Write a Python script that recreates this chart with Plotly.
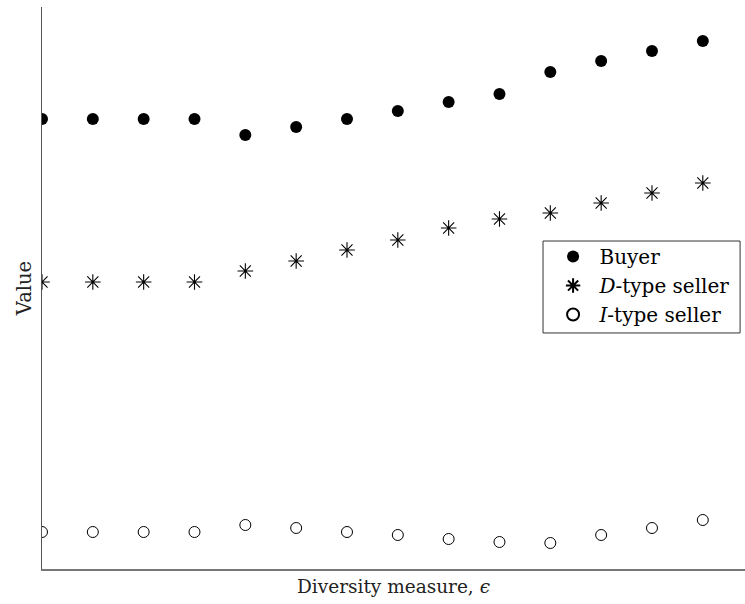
import plotly.graph_objects as go

eps = list(range(14))
buyer = [4.50, 4.50, 4.50, 4.50, 4.34, 4.42, 4.50, 4.58, 4.67, 4.75, 4.97, 5.08, 5.18, 5.28]
d_seller = [2.87, 2.87, 2.87, 2.87, 2.98, 3.08, 3.19, 3.29, 3.41, 3.50, 3.56, 3.66, 3.76, 3.86]
i_seller = [0.37, 0.37, 0.37, 0.37, 0.44, 0.41, 0.37, 0.34, 0.30, 0.27, 0.26, 0.34, 0.41, 0.49]

FONT = "DejaVu Serif"
NB = "\u00a0"

fig = go.Figure()
fig.add_trace(go.Scatter(x=eps, y=buyer, mode="markers", name=NB + "Buyer",
                         marker=dict(symbol="circle", size=12, color="black")))
fig.add_trace(go.Scatter(x=eps, y=d_seller, mode="markers", name=NB + "<i>D</i>-type seller",
                         marker=dict(symbol="asterisk-open", size=13, color="black",
                                     line=dict(width=1.1, color="black"))))
fig.add_trace(go.Scatter(x=eps, y=i_seller, mode="markers", name=NB + "<i>I</i>-type seller",
                         marker=dict(symbol="circle-open", size=11, color="black",
                                     line=dict(width=1, color="black"))))

fig.add_shape(type="rect", xref="paper", yref="paper",
              x0=0.7127, x1=0.993, y0=0.42, y1=0.5836,
              line=dict(color="#333", width=1), fillcolor="rgba(0,0,0,0)", layer="below")

fig.update_layout(
    width=745, height=604,
    margin=dict(l=42, r=0, t=7, b=35),
    paper_bgcolor="white", plot_bgcolor="white",
    font=dict(family=FONT, size=18, color="#222"),
    showlegend=True,
    legend=dict(x=0.727, y=0.5907, xanchor="left", yanchor="top",
                borderwidth=0, bgcolor="rgba(0,0,0,0)",
                font=dict(family=FONT, size=20, color="black"),
                itemsizing="constant", tracegroupgap=0),
    xaxis=dict(range=[0, 13.83], showgrid=False, zeroline=False, showticklabels=False,
               ticks="", showline=True, linecolor="#777", linewidth=2,
               title=dict(text="Diversity measure, <i>ϵ</i>", standoff=10,
                          font=dict(family=FONT, size=18.5, color="#222"))),
    yaxis=dict(range=[0, 5.62], showgrid=False, zeroline=False, showticklabels=False,
               ticks="", showline=True, linecolor="#555", linewidth=1.3,
               title=dict(text="Value", standoff=4,
                          font=dict(family=FONT, size=19.5, color="#222"))),
)

fig.write_html(
    "out.html",
    config={"displayModeBar": False},
    post_script="document.body.style.margin='0';document.body.style.overflow='hidden';",
)
